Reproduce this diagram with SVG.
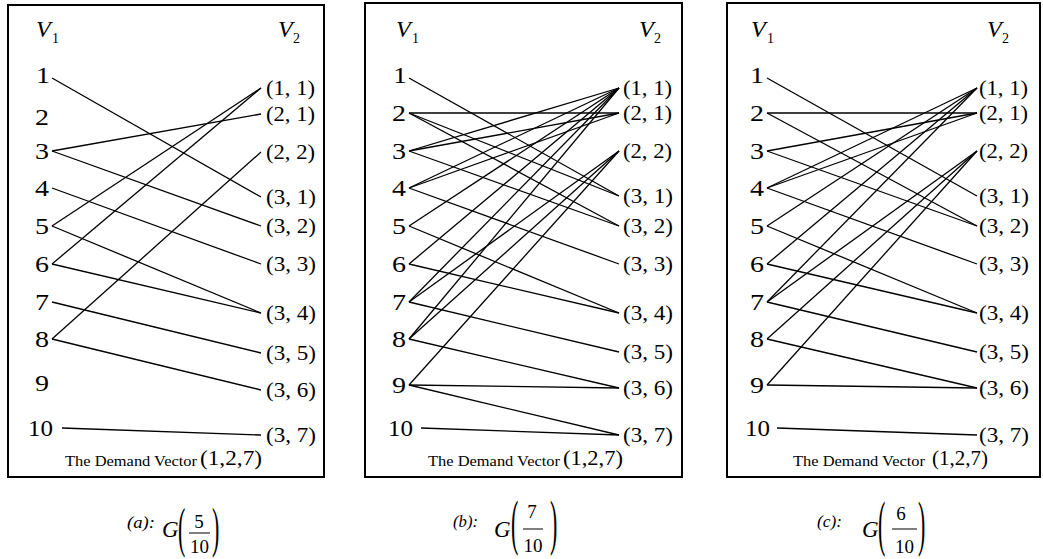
<svg xmlns="http://www.w3.org/2000/svg" width="1043" height="559" viewBox="0 0 1043 559">
<style>
text{font-family:"Liberation Serif","Times New Roman",serif;fill:#000}
.n{font-size:23px}
.r{font-size:20.5px}
.v{font-size:24px;font-style:italic}
.s{font-size:14px}
.d{font-size:15px}
.dv{font-size:22px}
.cap{font-size:16px;font-style:italic}
.g{font-size:23px;font-style:italic}
.fr{font-size:19px;text-anchor:middle}
.p{font-size:22px}
.box{fill:none;stroke:#000;stroke-width:2}
.e line{stroke:#000;stroke-width:1.3}
.bar{stroke:#000;stroke-width:1}
</style>
<rect width="1043" height="559" fill="#fff"/>

<!-- Panel (a) -->
<g id="panel-a">
<rect class="box" x="8" y="5" width="316" height="472"/>
<g id="a-V1"><text class="v" x="36" y="37">V</text><text class="s" x="52" y="43">1</text></g>
<g id="a-V2"><text class="v" x="278" y="37">V</text><text class="s" x="293" y="43">2</text></g>
<g id="a-L1"><text class="n" x="36" y="83" textLength="14" lengthAdjust="spacingAndGlyphs">1</text></g>
<g id="a-L2"><text class="n" x="35" y="125" textLength="14" lengthAdjust="spacingAndGlyphs">2</text></g>
<g id="a-L3"><text class="n" x="35" y="159" textLength="14" lengthAdjust="spacingAndGlyphs">3</text></g>
<g id="a-L4"><text class="n" x="35" y="196" textLength="14" lengthAdjust="spacingAndGlyphs">4</text></g>
<g id="a-L5"><text class="n" x="35" y="234" textLength="14" lengthAdjust="spacingAndGlyphs">5</text></g>
<g id="a-L6"><text class="n" x="35" y="272" textLength="14" lengthAdjust="spacingAndGlyphs">6</text></g>
<g id="a-L7"><text class="n" x="35" y="310" textLength="14" lengthAdjust="spacingAndGlyphs">7</text></g>
<g id="a-L8"><text class="n" x="35" y="347" textLength="14" lengthAdjust="spacingAndGlyphs">8</text></g>
<g id="a-L9"><text class="n" x="35" y="391" textLength="14" lengthAdjust="spacingAndGlyphs">9</text></g>
<g id="a-L10"><text class="n" x="28" y="436" textLength="25" lengthAdjust="spacingAndGlyphs">10</text></g>
<g id="a-R11"><text class="r" x="266" y="95" textLength="49" lengthAdjust="spacingAndGlyphs">(1, 1)</text></g>
<g id="a-R21"><text class="r" x="266" y="121" textLength="49" lengthAdjust="spacingAndGlyphs">(2, 1)</text></g>
<g id="a-R22"><text class="r" x="266" y="159" textLength="49" lengthAdjust="spacingAndGlyphs">(2, 2)</text></g>
<g id="a-R31"><text class="r" x="266" y="204" textLength="50" lengthAdjust="spacingAndGlyphs">(3, 1)</text></g>
<g id="a-R32"><text class="r" x="266" y="233" textLength="50" lengthAdjust="spacingAndGlyphs">(3, 2)</text></g>
<g id="a-R33"><text class="r" x="266" y="271" textLength="50" lengthAdjust="spacingAndGlyphs">(3, 3)</text></g>
<g id="a-R34"><text class="r" x="266" y="320" textLength="50" lengthAdjust="spacingAndGlyphs">(3, 4)</text></g>
<g id="a-R35"><text class="r" x="266" y="360" textLength="50" lengthAdjust="spacingAndGlyphs">(3, 5)</text></g>
<g id="a-R36"><text class="r" x="266" y="397" textLength="50" lengthAdjust="spacingAndGlyphs">(3, 6)</text></g>
<g id="a-R37"><text class="r" x="266" y="442" textLength="50" lengthAdjust="spacingAndGlyphs">(3, 7)</text></g>
<g id="a-demand"><text class="d" x="65" y="466" textLength="132" lengthAdjust="spacingAndGlyphs">The Demand Vector</text><text class="dv" x="200" y="465" textLength="62" lengthAdjust="spacingAndGlyphs">(1,2,7)</text></g>
<g id="a-edges" class="e">
<line x1="52" y1="78" x2="261" y2="197"/>
<line x1="52" y1="151" x2="261" y2="114"/>
<line x1="52" y1="151" x2="261" y2="226"/>
<line x1="52" y1="188" x2="261" y2="264"/>
<line x1="52" y1="226" x2="261" y2="88"/>
<line x1="52" y1="226" x2="261" y2="313"/>
<line x1="52" y1="264" x2="261" y2="88"/>
<line x1="52" y1="264" x2="261" y2="313"/>
<line x1="52" y1="302" x2="261" y2="353"/>
<line x1="52" y1="339" x2="261" y2="152"/>
<line x1="52" y1="339" x2="261" y2="390"/>
<line x1="62" y1="428" x2="261" y2="435"/>
</g>
</g>

<!-- Panel (b) -->
<g id="panel-b">
<rect class="box" x="365" y="3" width="317" height="474"/>
<g id="b-V1"><text class="v" x="396" y="37">V</text><text class="s" x="412" y="43">1</text></g>
<g id="b-V2"><text class="v" x="639" y="37">V</text><text class="s" x="654" y="43">2</text></g>
<g id="b-L1"><text class="n" x="393" y="83" textLength="14" lengthAdjust="spacingAndGlyphs">1</text></g>
<g id="b-L2"><text class="n" x="392" y="121" textLength="14" lengthAdjust="spacingAndGlyphs">2</text></g>
<g id="b-L3"><text class="n" x="392" y="159" textLength="14" lengthAdjust="spacingAndGlyphs">3</text></g>
<g id="b-L4"><text class="n" x="392" y="196" textLength="14" lengthAdjust="spacingAndGlyphs">4</text></g>
<g id="b-L5"><text class="n" x="392" y="234" textLength="14" lengthAdjust="spacingAndGlyphs">5</text></g>
<g id="b-L6"><text class="n" x="392" y="272" textLength="14" lengthAdjust="spacingAndGlyphs">6</text></g>
<g id="b-L7"><text class="n" x="392" y="310" textLength="14" lengthAdjust="spacingAndGlyphs">7</text></g>
<g id="b-L8"><text class="n" x="392" y="347" textLength="14" lengthAdjust="spacingAndGlyphs">8</text></g>
<g id="b-L9"><text class="n" x="392" y="393" textLength="14" lengthAdjust="spacingAndGlyphs">9</text></g>
<g id="b-L10"><text class="n" x="388" y="436" textLength="25" lengthAdjust="spacingAndGlyphs">10</text></g>
<g id="b-R11"><text class="r" x="623" y="95" textLength="49" lengthAdjust="spacingAndGlyphs">(1, 1)</text></g>
<g id="b-R21"><text class="r" x="623" y="120" textLength="49" lengthAdjust="spacingAndGlyphs">(2, 1)</text></g>
<g id="b-R22"><text class="r" x="623" y="158" textLength="49" lengthAdjust="spacingAndGlyphs">(2, 2)</text></g>
<g id="b-R31"><text class="r" x="623" y="203" textLength="50" lengthAdjust="spacingAndGlyphs">(3, 1)</text></g>
<g id="b-R32"><text class="r" x="623" y="233" textLength="50" lengthAdjust="spacingAndGlyphs">(3, 2)</text></g>
<g id="b-R33"><text class="r" x="623" y="271" textLength="50" lengthAdjust="spacingAndGlyphs">(3, 3)</text></g>
<g id="b-R34"><text class="r" x="623" y="320" textLength="50" lengthAdjust="spacingAndGlyphs">(3, 4)</text></g>
<g id="b-R35"><text class="r" x="623" y="359" textLength="50" lengthAdjust="spacingAndGlyphs">(3, 5)</text></g>
<g id="b-R36"><text class="r" x="623" y="395" textLength="50" lengthAdjust="spacingAndGlyphs">(3, 6)</text></g>
<g id="b-R37"><text class="r" x="623" y="442" textLength="50" lengthAdjust="spacingAndGlyphs">(3, 7)</text></g>
<g id="b-demand"><text class="d" x="428" y="466" textLength="132" lengthAdjust="spacingAndGlyphs">The Demand Vector</text><text class="dv" x="563" y="465" textLength="60" lengthAdjust="spacingAndGlyphs">(1,2,7)</text></g>
<g id="b-edges" class="e">
<line x1="409" y1="78" x2="619" y2="196"/>
<line x1="409" y1="113" x2="619" y2="113"/>
<line x1="409" y1="113" x2="619" y2="196"/>
<line x1="409" y1="113" x2="619" y2="226"/>
<line x1="409" y1="151" x2="619" y2="88"/>
<line x1="409" y1="151" x2="619" y2="113"/>
<line x1="409" y1="151" x2="619" y2="226"/>
<line x1="409" y1="188" x2="619" y2="88"/>
<line x1="409" y1="188" x2="619" y2="113"/>
<line x1="409" y1="188" x2="619" y2="264"/>
<line x1="409" y1="226" x2="619" y2="88"/>
<line x1="409" y1="226" x2="619" y2="313"/>
<line x1="409" y1="264" x2="619" y2="88"/>
<line x1="409" y1="264" x2="619" y2="313"/>
<line x1="409" y1="302" x2="619" y2="88"/>
<line x1="409" y1="302" x2="619" y2="151"/>
<line x1="409" y1="302" x2="619" y2="352"/>
<line x1="409" y1="339" x2="619" y2="88"/>
<line x1="409" y1="339" x2="619" y2="151"/>
<line x1="409" y1="339" x2="619" y2="388"/>
<line x1="409" y1="385" x2="619" y2="151"/>
<line x1="409" y1="385" x2="619" y2="388"/>
<line x1="409" y1="385" x2="619" y2="435"/>
<line x1="421" y1="428" x2="619" y2="435"/>
</g>
</g>

<!-- Panel (c) -->
<g id="panel-c">
<rect class="box" x="727" y="3" width="313" height="474"/>
<g id="c-V1"><text class="v" x="751" y="37">V</text><text class="s" x="767" y="43">1</text></g>
<g id="c-V2"><text class="v" x="987" y="37">V</text><text class="s" x="1002" y="43">2</text></g>
<g id="c-L1"><text class="n" x="750" y="83" textLength="14" lengthAdjust="spacingAndGlyphs">1</text></g>
<g id="c-L2"><text class="n" x="750" y="121" textLength="14" lengthAdjust="spacingAndGlyphs">2</text></g>
<g id="c-L3"><text class="n" x="750" y="159" textLength="14" lengthAdjust="spacingAndGlyphs">3</text></g>
<g id="c-L4"><text class="n" x="750" y="196" textLength="14" lengthAdjust="spacingAndGlyphs">4</text></g>
<g id="c-L5"><text class="n" x="750" y="234" textLength="14" lengthAdjust="spacingAndGlyphs">5</text></g>
<g id="c-L6"><text class="n" x="750" y="272" textLength="14" lengthAdjust="spacingAndGlyphs">6</text></g>
<g id="c-L7"><text class="n" x="750" y="310" textLength="14" lengthAdjust="spacingAndGlyphs">7</text></g>
<g id="c-L8"><text class="n" x="750" y="347" textLength="14" lengthAdjust="spacingAndGlyphs">8</text></g>
<g id="c-L9"><text class="n" x="750" y="393" textLength="14" lengthAdjust="spacingAndGlyphs">9</text></g>
<g id="c-L10"><text class="n" x="745" y="436" textLength="25" lengthAdjust="spacingAndGlyphs">10</text></g>
<g id="c-R11"><text class="r" x="979" y="95" textLength="49" lengthAdjust="spacingAndGlyphs">(1, 1)</text></g>
<g id="c-R21"><text class="r" x="979" y="120" textLength="49" lengthAdjust="spacingAndGlyphs">(2, 1)</text></g>
<g id="c-R22"><text class="r" x="979" y="158" textLength="49" lengthAdjust="spacingAndGlyphs">(2, 2)</text></g>
<g id="c-R31"><text class="r" x="979" y="203" textLength="50" lengthAdjust="spacingAndGlyphs">(3, 1)</text></g>
<g id="c-R32"><text class="r" x="979" y="233" textLength="50" lengthAdjust="spacingAndGlyphs">(3, 2)</text></g>
<g id="c-R33"><text class="r" x="979" y="271" textLength="50" lengthAdjust="spacingAndGlyphs">(3, 3)</text></g>
<g id="c-R34"><text class="r" x="979" y="320" textLength="50" lengthAdjust="spacingAndGlyphs">(3, 4)</text></g>
<g id="c-R35"><text class="r" x="979" y="359" textLength="50" lengthAdjust="spacingAndGlyphs">(3, 5)</text></g>
<g id="c-R36"><text class="r" x="979" y="395" textLength="50" lengthAdjust="spacingAndGlyphs">(3, 6)</text></g>
<g id="c-R37"><text class="r" x="979" y="442" textLength="50" lengthAdjust="spacingAndGlyphs">(3, 7)</text></g>
<g id="c-demand"><text class="d" x="793" y="466" textLength="132" lengthAdjust="spacingAndGlyphs">The Demand Vector</text><text class="dv" x="932" y="465" textLength="56" lengthAdjust="spacingAndGlyphs">(1,2,7)</text></g>
<g id="c-edges" class="e">
<line x1="767" y1="78" x2="977" y2="196"/>
<line x1="767" y1="113" x2="977" y2="113"/>
<line x1="767" y1="113" x2="977" y2="226"/>
<line x1="767" y1="151" x2="977" y2="113"/>
<line x1="767" y1="151" x2="977" y2="226"/>
<line x1="767" y1="188" x2="977" y2="88"/>
<line x1="767" y1="188" x2="977" y2="113"/>
<line x1="767" y1="188" x2="977" y2="264"/>
<line x1="767" y1="226" x2="977" y2="88"/>
<line x1="767" y1="226" x2="977" y2="313"/>
<line x1="767" y1="264" x2="977" y2="88"/>
<line x1="767" y1="264" x2="977" y2="313"/>
<line x1="767" y1="302" x2="977" y2="88"/>
<line x1="767" y1="302" x2="977" y2="151"/>
<line x1="767" y1="302" x2="977" y2="352"/>
<line x1="767" y1="339" x2="977" y2="151"/>
<line x1="767" y1="339" x2="977" y2="388"/>
<line x1="767" y1="385" x2="977" y2="151"/>
<line x1="767" y1="385" x2="977" y2="388"/>
<line x1="777" y1="428" x2="977" y2="435"/>
</g>
</g>

<!-- Captions -->
<g id="caption-a">
<text class="cap" x="127" y="528" textLength="28" lengthAdjust="spacingAndGlyphs">(a):</text>
<text class="g" x="162" y="537">G</text>
<text class="p" transform="translate(178,546) scale(1,2.5)">(</text>
<text class="fr" x="199" y="528">5</text>
<line class="bar" x1="189" y1="533" x2="210" y2="533"/>
<text class="fr" x="199.5" y="553">10</text>
<text class="p" transform="translate(212,546) scale(1,2.5)">)</text>
</g>
<g id="caption-b">
<text class="cap" x="453" y="527" textLength="25" lengthAdjust="spacingAndGlyphs">(b):</text>
<text class="g" x="494" y="537">G</text>
<text class="p" transform="translate(511,543) scale(1,2.8)">(</text>
<text class="fr" x="532" y="518">7</text>
<line class="bar" x1="523" y1="529" x2="543" y2="529"/>
<text class="fr" x="533" y="552">10</text>
<text class="p" transform="translate(550,543) scale(1,2.8)">)</text>
</g>
<g id="caption-c">
<text class="cap" x="817" y="527" textLength="25" lengthAdjust="spacingAndGlyphs">(c):</text>
<text class="g" x="862" y="537">G</text>
<text class="p" transform="translate(878,544) scale(1,2.8)">(</text>
<text class="fr" x="901" y="520">6</text>
<line class="bar" x1="892" y1="529" x2="917" y2="529"/>
<text class="fr" x="904.5" y="553">10</text>
<text class="p" transform="translate(918,544) scale(1,2.8)">)</text>
</g>
</svg>
